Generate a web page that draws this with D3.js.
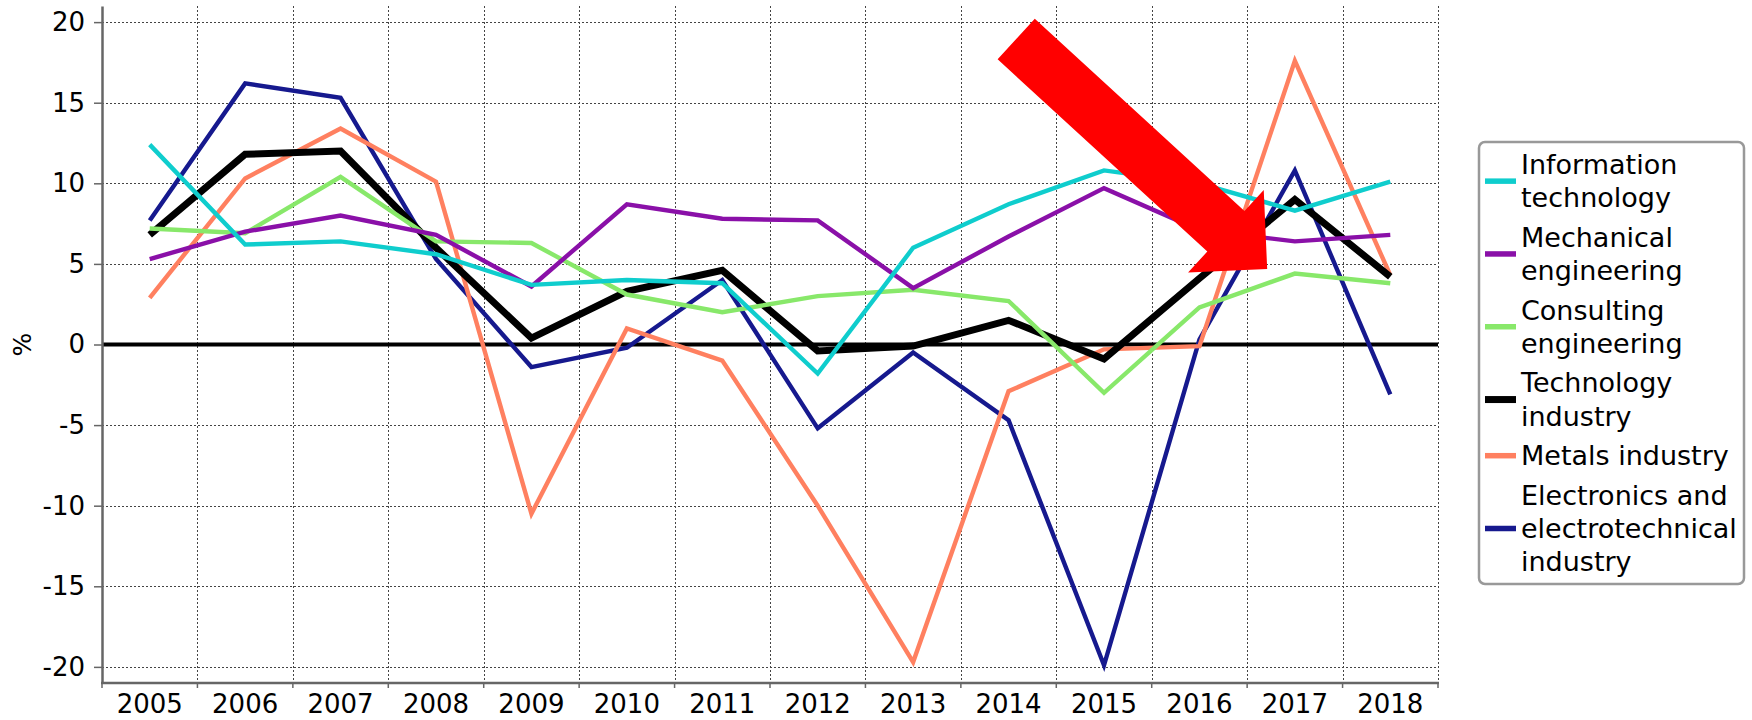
<!DOCTYPE html>
<html>
<head>
<meta charset="utf-8">
<script src="https://cdn.jsdelivr.net/npm/d3@7"></script>
<style>
  html, body { margin: 0; padding: 0; background: #fff; }
  svg { display: block; font-family: "DejaVu Sans", Verdana, sans-serif; }
</style>
</head>
<body>
<svg id="chart" width="1752" height="720"></svg>
<script>
const years = [2005, 2006, 2007, 2008, 2009, 2010, 2011, 2012, 2013, 2014, 2015, 2016, 2017, 2018];

const infoTech     = [12.4, 6.2, 6.4, 5.6, 3.7, 4.0, 3.8, -1.8, 6.0, 8.7, 10.8, 10.0, 8.3, 10.1];
const mechEng      = [5.3, 7.0, 8.0, 6.8, 3.6, 8.7, 7.8, 7.7, 3.5, 6.7, 9.7, 7.1, 6.4, 6.8];
const consultEng   = [7.2, 6.9, 10.4, 6.4, 6.3, 3.1, 2.0, 3.0, 3.4, 2.7, -3.0, 2.3, 4.4, 3.8];
const techIndustry = [6.8, 11.8, 12.0, 6.0, 0.4, 3.3, 4.6, -0.4, -0.1, 1.5, -0.9, 4.1, 9.0, 4.2];
const metals       = [2.9, 10.3, 13.4, 10.1, -10.5, 1.0, -1.0, -10.0, -19.7, -2.9, -0.3, -0.1, 17.6, 4.3];
const electronics  = [7.7, 16.2, 15.3, 5.3, -1.4, -0.2, 4.0, -5.2, -0.5, -4.7, -19.9, 0.3, 10.8, -3.1];

const legendLabels = [
  ["Information", "technology"],
  ["Mechanical", "engineering"],
  ["Consulting", "engineering"],
  ["Technology", "industry"],
  ["Metals industry"],
  ["Electronics and", "electrotechnical", "industry"]
];
const seriesValues = [infoTech, mechEng, consultEng, techIndustry, metals, electronics];
const seriesColors = ["#0fcdcd", "#8a10a8", "#88e86a", "#000000", "#ff8060", "#16198e"];
const seriesWidths = [4.4, 4.4, 4.4, 7, 4.4, 4.4];

const yTicks = [-20, -15, -10, -5, 0, 5, 10, 15, 20];
const yDomain = [-21, 21];

// annotation arrow: [band position, value]
const arrowFrom = [9.58, 18.95];
const arrowTo = [12.21, 4.68];

const svg = d3.select("#chart");
const plotLeft = 102, plotRight = 1438, plotTop = 6, plotBottom = 683;

const x = d3.scaleBand().domain(years).range([plotLeft, plotRight]).padding(0);
const xPos = d3.scaleLinear().domain([0, years.length]).range([plotLeft, plotRight]);
const y = d3.scaleLinear().domain(yDomain).range([plotBottom, plotTop]);

// grid
const grid = svg.append("g")
  .attr("stroke", "#444").attr("stroke-width", 1).attr("stroke-dasharray", "2,2");
grid.selectAll("line.h").data(yTicks.filter(d => d !== 0)).join("line")
  .attr("x1", plotLeft).attr("x2", plotRight)
  .attr("y1", d => Math.round(y(d)) + 0.5).attr("y2", d => Math.round(y(d)) + 0.5);
grid.selectAll("line.v").data(d3.range(1, years.length + 1)).join("line")
  .attr("x1", d => Math.round(xPos(d)) + 0.5).attr("x2", d => Math.round(xPos(d)) + 0.5)
  .attr("y1", plotTop).attr("y2", plotBottom);

// zero line
svg.append("line")
  .attr("x1", plotLeft).attr("x2", plotRight)
  .attr("y1", y(0)).attr("y2", y(0))
  .attr("stroke", "#000").attr("stroke-width", 4);

// y axis
const yAxis = svg.append("g")
  .attr("transform", `translate(${plotLeft},0)`)
  .call(d3.axisLeft(y).tickValues(yTicks).tickFormat(d => String(d))
    .tickSize(8).tickPadding(9).tickSizeOuter(0));
yAxis.select(".domain").attr("stroke", "#666").attr("stroke-width", 2.5);
yAxis.selectAll(".tick line").attr("stroke", "#666").attr("stroke-width", 1.5);
yAxis.selectAll(".tick text").attr("font-size", 26).attr("fill", "#000")
  .attr("font-family", "DejaVu Sans, Verdana, sans-serif");

// x axis
const xAxis = svg.append("g")
  .attr("transform", `translate(0,${plotBottom})`)
  .call(d3.axisBottom(x).tickSize(0).tickPadding(12).tickSizeOuter(0));
xAxis.select(".domain").remove();
xAxis.selectAll(".tick text").attr("font-size", 26).attr("fill", "#000")
  .attr("font-family", "DejaVu Sans, Verdana, sans-serif");
svg.append("line")
  .attr("x1", plotLeft - 1).attr("x2", plotRight + 1).attr("y1", plotBottom).attr("y2", plotBottom)
  .attr("stroke", "#666").attr("stroke-width", 2.5);
svg.append("g").selectAll("line").data(d3.range(0, years.length + 1)).join("line")
  .attr("x1", d => xPos(d)).attr("x2", d => xPos(d))
  .attr("y1", plotBottom).attr("y2", plotBottom + 5)
  .attr("stroke", "#666").attr("stroke-width", 1.5);

// y label
svg.append("text")
  .attr("transform", `translate(31,${y(0)}) rotate(-90)`)
  .attr("text-anchor", "middle")
  .attr("font-size", 25)
  .text("%");

// lines (drawn in reverse legend order)
const line = d3.line()
  .x((d, i) => x(years[i]) + x.bandwidth() / 2)
  .y(d => y(d));
const order = d3.range(seriesValues.length).reverse();
svg.append("g").selectAll("path").data(order).join("path")
  .attr("fill", "none")
  .attr("stroke", i => seriesColors[i])
  .attr("stroke-width", i => seriesWidths[i])
  .attr("stroke-linejoin", "miter")
  .attr("d", i => line(seriesValues[i]));

// arrow
const tail = [xPos(arrowFrom[0]), y(arrowFrom[1])];
const tip = [xPos(arrowTo[0]), y(arrowTo[1])];
const len = Math.hypot(tip[0] - tail[0], tip[1] - tail[1]);
const u = [(tip[0] - tail[0]) / len, (tip[1] - tail[1]) / len];
const n = [-u[1], u[0]];
const shaftHalf = 27.5, headHalf = 56, headLen = 56;
const base = [tip[0] - u[0] * headLen, tip[1] - u[1] * headLen];
const pt = (p, k) => [p[0] + n[0] * k, p[1] + n[1] * k];
const arrowPts = [
  pt(tail, -shaftHalf), pt(base, -shaftHalf), pt(base, -headHalf), tip,
  pt(base, headHalf), pt(base, shaftHalf), pt(tail, shaftHalf)
];
svg.append("polygon")
  .attr("points", arrowPts.map(p => p.join(",")).join(" "))
  .attr("fill", "#ff0000");

// legend
const lg = svg.append("g");
lg.append("rect")
  .attr("x", 1479).attr("y", 142).attr("width", 265).attr("height", 442)
  .attr("rx", 6).attr("fill", "#fff").attr("stroke", "#999").attr("stroke-width", 2.5);
let lineIdx = 0;
legendLabels.forEach((labels, i) => {
  const baselines = labels.map((t, j) => 174 + (lineIdx + j) * 33.3 + i * 6.2);
  lineIdx += labels.length;
  const sy = d3.mean(baselines) - 9.5;
  lg.append("line")
    .attr("x1", 1485).attr("x2", 1516).attr("y1", sy).attr("y2", sy)
    .attr("stroke", seriesColors[i]).attr("stroke-width", i === 3 ? 7 : 5.5);
  labels.forEach((t, j) => {
    lg.append("text")
      .attr("x", 1521).attr("y", baselines[j])
      .attr("font-size", 27)
      .text(t);
  });
});
</script>
</body>
</html>
